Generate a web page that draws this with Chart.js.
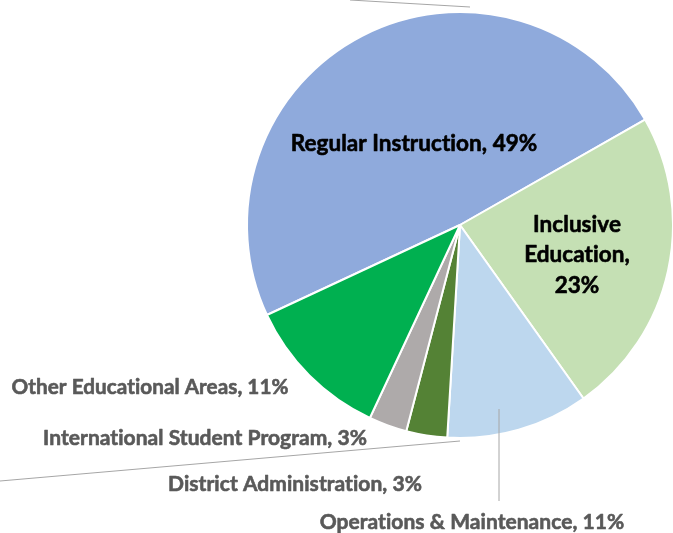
<!DOCTYPE html>
<html>
<head>
<meta charset="utf-8">
<title>Spending by area</title>
<script src="https://cdn.jsdelivr.net/npm/chart.js"></script>
<style>
	html, body { margin: 0; padding: 0; background: #fff; }
	#wrap { width: 673px; height: 533px; position: relative; }
</style>
</head>
<body>
<div id="wrap"><canvas id="pie-chartcanvas"></canvas></div>
<script>
// values, clockwise from the Regular/Other boundary
var categories = ["Regular Instruction", "Inclusive Education", "Operations & Maintenance",
	"District Administration", "International Student Program", "Other Educational Areas"];
var shares = [48.7, 23.4, 10.8, 3.1, 2.9, 11.1];
var shareLabels = ["49%", "23%", "11%", "3%", "3%", "11%"];
var sliceColors = ["#8FAADC", "#C5E0B4", "#BDD7EE", "#548235", "#AEAAAA", "#00B050"];

// label placement, offsets from the pie centre
var labelSpots = [
	{dx: -46, dy: -81, inside: true, size: 22.5},
	{dx: 117, dy: 30, inside: true, size: 22.5, wrap: true},
	{dx: 12, dy: 297, size: 21},
	{dx: -165, dy: 259, size: 21},
	{dx: -255, dy: 213, size: 21},
	{dx: -310, dy: 162, size: 20.7}
];
// grey leader lines (relative to centre)
var leaders = [
	[-110, -225, 10, -218],
	[-460, 256, 0, 216],
	[39, 184, 39, 276]
];

var labelPlugin = {
	id: "sliceLabels",
	afterDatasetsDraw: function(chart) {
		var ctx = chart.ctx;
		var arcs = chart.getDatasetMeta(0).data;
		var cx = arcs[0].x, cy = arcs[0].y;

		ctx.save();
		ctx.strokeStyle = "#A6A6A6";
		ctx.lineWidth = 1;
		leaders.forEach(function(l) {
			ctx.beginPath();
			ctx.moveTo(cx + l[0], cy + l[1]);
			ctx.lineTo(cx + l[2], cy + l[3]);
			ctx.stroke();
		});

		ctx.textAlign = "center";
		ctx.textBaseline = "middle";
		ctx.lineJoin = "round";
		// a tiny spacing keeps Lato from joining "ti" into a ligature
		if ("letterSpacing" in ctx) ctx.letterSpacing = "0.05px";
		var lineH = 30.5;

		arcs.forEach(function(arc, i) {
			var spot = labelSpots[i];
			var x = cx + spot.dx, y = cy + spot.dy;
			var color = spot.inside ? "#000000" : "#595959";
			ctx.font = "bold " + spot.size + "px Lato";
			ctx.fillStyle = color;
			ctx.strokeStyle = color;
			ctx.lineWidth = 0.6;
			var rows = [categories[i] + ", " + shareLabels[i]];
			if (spot.wrap) {
				var words = categories[i].split(" ");
				rows = [words[0], words.slice(1).join(" ") + ",", shareLabels[i]];
			}
			rows.forEach(function(row, k) {
				var ty = y + (k - (rows.length - 1) / 2) * lineH;
				ctx.strokeText(row, x, ty);
				ctx.fillText(row, x, ty);
			});
		});
		ctx.restore();
	}
};

var ctx = document.getElementById("pie-chartcanvas");

var data = {
	labels: categories,
	datasets: [
		{
			data: shares,
			backgroundColor: sliceColors,
			borderColor: "#FFFFFF",
			borderWidth: 2
		}
	]
};

var options = {
	responsive: true,
	maintainAspectRatio: false,
	animation: false,
	rotation: -115,
	radius: 213,
	layout: {
		padding: {left: 247, right: 0, top: 0, bottom: 83}
	},
	plugins: {
		legend: {display: false},
		tooltip: {enabled: false}
	}
};

var chart = new Chart(ctx, {
	type: "pie",
	data: data,
	options: options,
	plugins: [labelPlugin]
});
</script>
</body>
</html>
